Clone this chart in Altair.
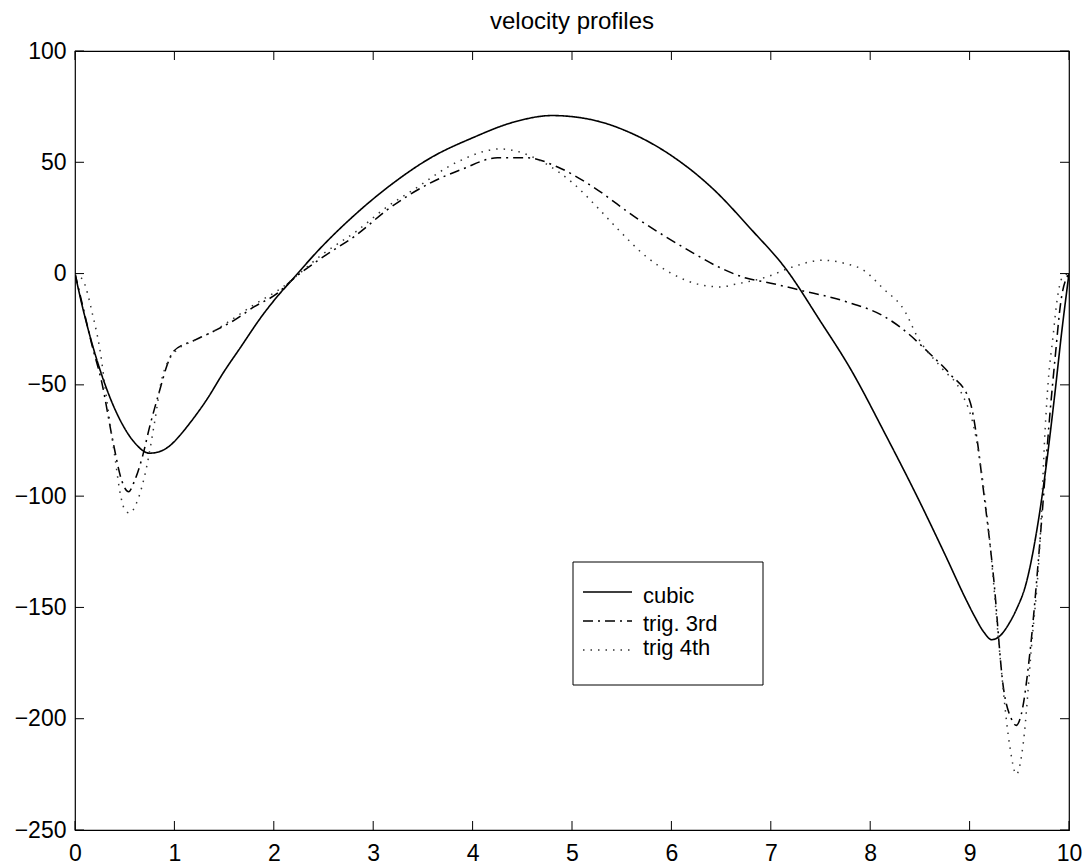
import altair as alt
import pandas as pd

series_names = ["cubic", "trig. 3rd", "trig 4th"]

cubic_x = [0, 0.07, 0.15, 0.32, 0.48, 0.6, 0.75, 0.85, 0.95, 1.05, 1.15, 1.32, 1.5, 1.66, 1.89,
           2.06, 2.16, 2.46, 2.83, 3.2, 3.57, 4.0, 4.41, 4.8, 5.21, 5.6, 6.0, 6.42, 6.8, 7.16,
           7.49, 7.8, 8.15, 8.47, 8.75, 8.97, 9.05, 9.15, 9.22, 9.3, 9.4, 9.47, 9.57, 9.67,
           9.76, 9.85, 9.93, 10]
cubic_y = [0, -14, -28, -52, -68, -76, -80.7, -80, -77.5, -73, -67.5, -57, -44, -33.5, -18.5,
           -9, -4, 11, 27, 40.6, 51.8, 61, 68, 71, 69, 63, 53, 38, 20, 1.6,
           -20.8, -42.7, -72, -100, -126, -147, -154, -161.5, -164.5, -163, -157, -151, -139, -117,
           -90, -57, -25, 0]

trig3_x = [0, 0.08, 0.17, 0.27, 0.38, 0.47, 0.54, 0.6, 0.68, 0.75, 0.855, 0.92, 0.99, 1.2,
           1.39, 1.6, 1.8, 2.06, 2.13, 2.5, 2.83, 3.14, 3.57, 3.9, 4.25, 4.55, 4.85, 5.15,
           5.68, 6.22, 6.45, 6.75, 7.0, 7.29, 7.77, 8.13, 8.3, 8.6, 8.8, 9.0, 9.08, 9.13, 9.24,
           9.34, 9.42, 9.47, 9.52, 9.61, 9.71, 9.81, 9.86, 9.92, 10]
trig3_y = [0, -15, -32, -49, -75, -93, -98, -93, -82, -69, -52, -42, -35, -30,
           -26, -21, -15, -8, -5, 7.6, 17.3, 28.6, 40.6, 47, 52, 52, 48, 40.7,
           24, 9.2, 3.5, -2, -4.3, -7.4, -12.8, -19, -24, -36, -45, -57, -76, -94, -136,
           -186, -200, -203, -198, -169, -119, -62, -38, -12, 0]

trig4_x = [0, 0.08, 0.18, 0.25, 0.32, 0.4, 0.46, 0.5, 0.55, 0.62, 0.72, 0.8, 0.87, 0.93,
           0.99, 1.2, 1.39, 1.6, 1.8, 2.06, 2.5, 2.83, 3.14, 3.4, 3.84, 4.28, 4.71, 5.01,
           5.25, 5.45, 5.75, 5.99, 6.29, 6.5, 6.62, 6.96, 7.22, 7.52, 7.75, 7.93, 8.13,
           8.35, 8.47, 8.73, 8.9, 9.07, 9.2, 9.3, 9.4, 9.47, 9.54, 9.62, 9.71, 9.76, 9.79,
           9.84, 9.88, 9.93, 10]
trig4_y = [0, -3, -19, -34, -57, -82, -100, -106, -107.6, -103, -87, -67, -48, -40,
           -36, -30, -26, -20, -14, -7, 9, 19, 30, 37.5, 50, 56, 50, 40.6,
           30, 20.5, 7.5, 0.3, -5, -6, -5, -1.5, 3, 6, 4.5, 1.6, -6.7,
           -17, -28, -43, -52, -75, -119, -169, -211, -225, -211, -169, -119, -70, -49,
           -28, -12, -2, 0]

x_ticks = list(range(0, 11))
y_ticks = [-250, -200, -150, -100, -50, 0, 50, 100]

rows = []
for name, xs, ys in zip(series_names, [cubic_x, trig3_x, trig4_x], [cubic_y, trig3_y, trig4_y]):
    for i, (a, b) in enumerate(zip(xs, ys)):
        rows.append({"series": name, "x": a, "y": b, "order": i})
df = pd.DataFrame(rows)

W, H = 994, 779
FONT = "Liberation Sans"
dashes = [[1, 0], [10, 5, 2, 5], [1.5, 6]]
colors = ["#000000", "#000000", "#333333"]
widths = [1.6, 1.5, 1.4]

x_scale = alt.Scale(domain=[0, 10], nice=False, zero=False)
y_scale = alt.Scale(domain=[-250, 100], nice=False, zero=False)

x_axis = alt.Axis(values=x_ticks, format="d", labelFontSize=23, labelFont=FONT, labelColor="black",
                  labelPadding=12, ticks=False, tickSize=0, domain=False, grid=False,
                  labelFlush=False, labelOverlap=False)
y_axis = alt.Axis(values=y_ticks, format="d", labelFontSize=23, labelFont=FONT, labelColor="black",
                  labelPadding=9, ticks=False, tickSize=0, domain=False, grid=False,
                  labelFlush=False, labelOverlap=False)

lines = alt.Chart(df).mark_line(interpolate="monotone", clip=True).encode(
    x=alt.X("x:Q", scale=x_scale, axis=x_axis, title=None),
    y=alt.Y("y:Q", scale=y_scale, axis=y_axis, title=None),
    color=alt.Color("series:N", scale=alt.Scale(domain=series_names, range=colors), legend=None),
    strokeDash=alt.StrokeDash("series:N", scale=alt.Scale(domain=series_names, range=dashes), legend=None),
    strokeWidth=alt.StrokeWidth("series:N", scale=alt.Scale(domain=series_names, range=widths), legend=None),
    order="order:Q",
)

xt = pd.DataFrame({"x": x_ticks})
yt = pd.DataFrame({"y": y_ticks})
TL = 9
bottom_ticks = alt.Chart(xt).mark_rule(color="black", strokeWidth=1).encode(
    x=alt.X("x:Q", scale=x_scale, axis=x_axis, title=None), y=alt.value(H), y2=alt.value(H - TL))
top_ticks = alt.Chart(xt).mark_rule(color="black", strokeWidth=1).encode(
    x=alt.X("x:Q", scale=x_scale, axis=x_axis, title=None), y=alt.value(0), y2=alt.value(TL))
left_ticks = alt.Chart(yt).mark_rule(color="black", strokeWidth=1).encode(
    y=alt.Y("y:Q", scale=y_scale, axis=y_axis, title=None), x=alt.value(0), x2=alt.value(TL))
right_ticks = alt.Chart(yt).mark_rule(color="black", strokeWidth=1).encode(
    y=alt.Y("y:Q", scale=y_scale, axis=y_axis, title=None), x=alt.value(W), x2=alt.value(W - TL))

# legend box (manual, MATLAB style)
LX0, LX1, LY0, LY1 = 498, 688, 511, 634
one = pd.DataFrame({"k": [0]})
legend_box = alt.Chart(one).mark_rect(fill="white", stroke="black", strokeWidth=1).encode(
    x=alt.value(LX0), x2=alt.value(LX1), y=alt.value(LY0), y2=alt.value(LY1))
legend_layers = [legend_box]
line_ys = [541, 570, 599]
text_ys = [552, 580, 604]
for i, name in enumerate(series_names):
    d = pd.DataFrame({"series": [name]})
    legend_layers.append(
        alt.Chart(d).mark_rule(color=colors[i], strokeWidth=widths[i], strokeDash=dashes[i]).encode(
            x=alt.value(508), x2=alt.value(557), y=alt.value(line_ys[i])))
    legend_layers.append(
        alt.Chart(d).mark_text(align="left", baseline="alphabetic", fontSize=22, font=FONT,
                               color="black").encode(
            x=alt.value(568), y=alt.value(text_ys[i]), text="series:N"))

chart = alt.layer(lines, bottom_ticks, top_ticks, left_ticks, right_ticks, *legend_layers).properties(
    width=W, height=H,
    background="white",
    title=alt.TitleParams("velocity profiles", fontSize=24, font=FONT, fontWeight="normal",
                          anchor="middle", frame="group", baseline="alphabetic", offset=12,
                          dy=25, color="black"),
    autosize=alt.AutoSizeParams(type="none"),
    padding={"left": 75, "top": 51, "right": 19, "bottom": 36},
).configure_view(stroke="black", strokeWidth=1.2)

chart.save("out.html", embed_options={"renderer": "svg", "actions": False})
